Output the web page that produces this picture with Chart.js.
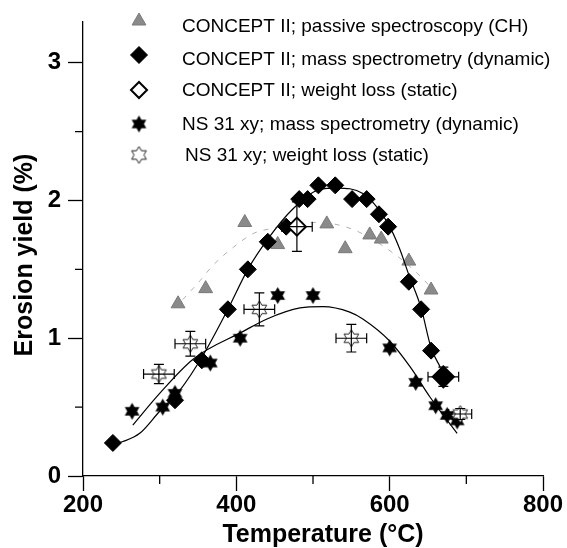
<!DOCTYPE html>
<html>
<head>
<meta charset="utf-8">
<script src="https://cdn.jsdelivr.net/npm/chart.js@4.4.1/dist/chart.umd.min.js"></script>
<style>
  body { margin: 0; background: #fff; }
</style>
</head>
<body>
<canvas id="myChart" width="567" height="548"></canvas>
<script>
"use strict";

const FONT = "'Liberation Sans', Arial, sans-serif";

// axis ticks
const xTicks = [200, 400, 600, 800];
const xMinor = [300, 500, 700];
const yTicks = [0, 1, 2, 3];
const yMinor = [0.5, 1.5, 2.5];

const seriesNames = [
  "CONCEPT II; passive spectroscopy (CH)",
  "CONCEPT II; mass spectrometry (dynamic)",
  "CONCEPT II; weight loss (static)",
  "NS 31 xy; mass spectrometry (dynamic)",
  "NS 31 xy; weight loss (static)",
];

// CONCEPT II, passive spectroscopy (grey triangles)
const chTemp = [324, 360, 411, 454, 518, 542, 574, 589, 625, 654];
const chYield = [1.25, 1.36, 1.84, 1.68, 1.83, 1.65, 1.75, 1.72, 1.56, 1.35];

// CONCEPT II, mass spectrometry (filled diamonds)
const msTemp = [239, 320, 355, 389, 415, 441, 465, 482, 493, 507, 529, 551, 570, 586, 598, 625, 641, 654, 668];
const msYield = [0.24, 0.55, 0.84, 1.21, 1.50, 1.70, 1.81, 2.01, 2.01, 2.11, 2.11, 2.01, 2.01, 1.90, 1.81, 1.41, 1.21, 0.91, 0.72];

// CONCEPT II, weight loss (open diamonds)
const wlTemp = [479, 670];
const wlYield = [1.81, 0.72];
const wlTempErr = [20, 20];
const wlYieldErr = [0.18, 0.07];

// NS 31 xy, mass spectrometry (filled stars)
const nsTemp = [264, 304, 320, 366, 405, 454, 500, 600, 634, 660, 675, 688];
const nsYield = [0.47, 0.50, 0.60, 0.82, 1.00, 1.31, 1.31, 0.93, 0.68, 0.51, 0.44, 0.40];

// NS 31 xy, weight loss (open stars)
const nwTemp = [299, 340, 430, 550, 692];
const nwYield = [0.74, 0.96, 1.21, 1.00, 0.45];
const nwTempErr = [20, 20, 20, 20, 15];
const nwYieldErr = [0.07, 0.09, 0.12, 0.10, 0.04];

// fitted curves as drawn
const fitChTemp = [330, 340, 353, 368, 383, 396, 422, 440, 505, 552, 609, 640, 652];
const fitChYield = [1.28, 1.34, 1.42, 1.52, 1.60, 1.66, 1.76, 1.79, 1.84, 1.79, 1.60, 1.45, 1.38];
const fitMsTemp = [239, 252, 274, 300, 326, 357, 389, 415, 441, 474, 509, 531, 565, 598, 613, 625, 641, 654, 666];
const fitMsYield = [0.23, 0.25, 0.31, 0.47, 0.62, 0.88, 1.21, 1.50, 1.72, 1.94, 2.08, 2.09, 2.05, 1.83, 1.65, 1.46, 1.22, 0.93, 0.79];
const fitNsTemp = [265, 300, 344, 409, 440, 483, 513, 548, 565, 600, 627, 653, 688];
const fitNsYield = [0.37, 0.60, 0.85, 1.05, 1.14, 1.22, 1.23, 1.19, 1.14, 0.98, 0.79, 0.57, 0.31];

function points(xs, ys) {
  return xs.map((x, i) => ({ x: x, y: ys[i] }));
}

// six pointed star marker
function makeStar(filled) {
  const c = document.createElement("canvas");
  c.width = 19;
  c.height = 19;
  const g = c.getContext("2d");
  const R = 8.5, r = R / Math.sqrt(3);
  g.beginPath();
  for (let i = 0; i < 12; i++) {
    const a = -Math.PI / 2 + (i * Math.PI) / 6;
    const rad = i % 2 === 0 ? R : r;
    const px = 9.5 + rad * Math.cos(a);
    const py = 9.5 + rad * Math.sin(a);
    if (i === 0) g.moveTo(px, py);
    else g.lineTo(px, py);
  }
  g.closePath();
  if (filled) {
    g.fillStyle = "#000";
    g.fill();
  } else {
    g.fillStyle = "#fff";
    g.fill();
    g.strokeStyle = "#222";
    g.lineWidth = 1;
    g.stroke();
  }
  return c;
}

const starFilled = makeStar(true);
const starOpen = makeStar(false);

const curveStyle = {
  showLine: true,
  pointRadius: 0,
  borderWidth: 1.2,
  borderColor: "#000",
  cubicInterpolationMode: "monotone",
  fill: false,
};

const datasets = [
  Object.assign({}, curveStyle, {
    label: "fit CH",
    data: points(fitChTemp, fitChYield),
    borderColor: "#b0b0b0",
    borderWidth: 1,
    borderDash: [5, 7],
    order: 9,
  }),
  Object.assign({}, curveStyle, { label: "fit ms", data: points(fitMsTemp, fitMsYield), order: 7 }),
  Object.assign({}, curveStyle, { label: "fit ns", data: points(fitNsTemp, fitNsYield), order: 7 }),
  {
    label: seriesNames[0],
    data: points(chTemp, chYield),
    pointStyle: "triangle",
    pointRadius: 8,
    backgroundColor: "#8a8a8a",
    borderColor: "#7a7a7a",
    borderWidth: 1,
    order: 8,
  },
  {
    label: seriesNames[1],
    data: points(msTemp, msYield),
    pointStyle: "rectRot",
    pointRadius: 8.5,
    backgroundColor: "#000",
    borderColor: "#000",
    borderWidth: 1,
    order: 5,
  },
  {
    label: seriesNames[2],
    data: points(wlTemp, wlYield),
    errX: wlTempErr,
    errY: wlYieldErr,
    pointStyle: "rectRot",
    pointRadius: [9, 10.5],
    backgroundColor: ["#fff", "#000"],
    borderColor: "#000",
    borderWidth: 2,
    order: 4,
  },
  {
    label: seriesNames[3],
    data: points(nsTemp, nsYield),
    pointStyle: starFilled,
    order: 3,
  },
  {
    label: seriesNames[4],
    data: points(nwTemp, nwYield),
    errX: nwTempErr,
    errY: nwYieldErr,
    pointStyle: starOpen,
    order: 2,
  },
];

const legendStyles = [
  { pointStyle: "triangle", radius: 8, fill: "#8a8a8a", stroke: "#7a7a7a", width: 1 },
  { pointStyle: "rectRot", radius: 8.5, fill: "#000", stroke: "#000", width: 1 },
  { pointStyle: "rectRot", radius: 8, fill: "#fff", stroke: "#000", width: 2 },
  { pointStyle: starFilled, radius: 8, fill: "#000", stroke: "#000", width: 1 },
  { pointStyle: starOpen, radius: 8, fill: "#fff", stroke: "#000", width: 1 },
];
const legendMarkY = [21, 55, 90, 124, 155];
const legendTextY = [27, 60, 91, 125, 156];

const errorBars = {
  id: "errorBars",
  afterDatasetsDraw(chart) {
    const ctx = chart.ctx;
    const xs = chart.scales.x, ys = chart.scales.y;
    ctx.save();
    ctx.strokeStyle = "#000";
    ctx.lineWidth = 1.2;
    chart.data.datasets.forEach((ds) => {
      if (!ds.errX) return;
      ds.data.forEach((p, i) => {
        const x0 = xs.getPixelForValue(p.x - ds.errX[i]);
        const x1 = xs.getPixelForValue(p.x + ds.errX[i]);
        const y0 = ys.getPixelForValue(p.y - ds.errY[i]);
        const y1 = ys.getPixelForValue(p.y + ds.errY[i]);
        const cx = xs.getPixelForValue(p.x);
        const cy = ys.getPixelForValue(p.y);
        ctx.beginPath();
        ctx.moveTo(x0, cy); ctx.lineTo(x1, cy);
        ctx.moveTo(x0, cy - 5); ctx.lineTo(x0, cy + 5);
        ctx.moveTo(x1, cy - 5); ctx.lineTo(x1, cy + 5);
        ctx.moveTo(cx, y0); ctx.lineTo(cx, y1);
        ctx.moveTo(cx - 5, y0); ctx.lineTo(cx + 5, y0);
        ctx.moveTo(cx - 5, y1); ctx.lineTo(cx + 5, y1);
        ctx.stroke();
      });
    });
    ctx.restore();
  },
};

const decorations = {
  id: "decorations",
  afterDraw(chart) {
    const ctx = chart.ctx;
    const xs = chart.scales.x, ys = chart.scales.y;
    const area = chart.chartArea;
    ctx.save();
    // minor ticks
    ctx.strokeStyle = "#000";
    ctx.lineWidth = 1.3;
    ctx.beginPath();
    xMinor.forEach((v) => {
      const px = xs.getPixelForValue(v);
      ctx.moveTo(px, area.bottom);
      ctx.lineTo(px, area.bottom + 8);
    });
    yMinor.forEach((v) => {
      const py = ys.getPixelForValue(v);
      ctx.moveTo(area.left, py);
      ctx.lineTo(area.left - 8, py);
    });
    ctx.stroke();

    // axis titles
    ctx.fillStyle = "#000";
    ctx.font = "bold 25px " + FONT;
    ctx.textAlign = "center";
    ctx.textBaseline = "middle";
    ctx.fillText("Temperature (\u00B0C)", 323, 535);
    ctx.save();
    ctx.translate(25, 255);
    ctx.rotate(-Math.PI / 2);
    ctx.fillText("Erosion yield (%)", 0, 0);
    ctx.restore();

    // legend
    ctx.font = "19px " + FONT;
    ctx.textAlign = "left";
    seriesNames.forEach((name, i) => {
      const st = legendStyles[i];
      ctx.fillStyle = st.fill;
      ctx.strokeStyle = st.stroke;
      ctx.lineWidth = st.width;
      Chart.helpers.drawPoint(ctx, { pointStyle: st.pointStyle, radius: st.radius, rotation: 0, borderWidth: st.width }, 139, legendMarkY[i]);
      ctx.fillStyle = "#000";
      ctx.fillText(name, i === 4 ? 185 : 182, legendTextY[i]);
    });
    ctx.restore();
  },
};

new Chart("myChart", {
  type: "scatter",
  data: { datasets: datasets },
  options: {
    responsive: false,
    animation: false,
    layout: { padding: { left: 0, right: 24, top: 17, bottom: 0 } },
    plugins: {
      legend: { display: false },
      tooltip: { enabled: false },
    },
    scales: {
      x: {
        type: "linear",
        min: 200,
        max: 800,
        afterBuildTicks: (s) => { s.ticks = xTicks.map((v) => ({ value: v })); },
        afterFit: (s) => { s.height = 72; },
        grid: { drawOnChartArea: false, tickLength: 15, tickColor: "#000", tickWidth: 1.3 },
        border: { color: "#000", width: 1.3 },
        ticks: {
          autoSkip: false,
          maxRotation: 0,
          padding: 0,
          color: "#000",
          font: { family: FONT, size: 24, weight: "bold" },
        },
      },
      y: {
        type: "linear",
        min: 0,
        max: 3.3,
        afterBuildTicks: (s) => { s.ticks = yTicks.map((v) => ({ value: v })); },
        afterFit: (s) => { s.width = 83; },
        grid: { drawOnChartArea: false, tickLength: 15, tickColor: "#000", tickWidth: 1.3 },
        border: { color: "#000", width: 1.3 },
        ticks: {
          autoSkip: false,
          padding: 7,
          color: "#000",
          font: { family: FONT, size: 24, weight: "bold" },
        },
      },
    },
  },
  plugins: [errorBars, decorations],
});
</script>
</body>
</html>
